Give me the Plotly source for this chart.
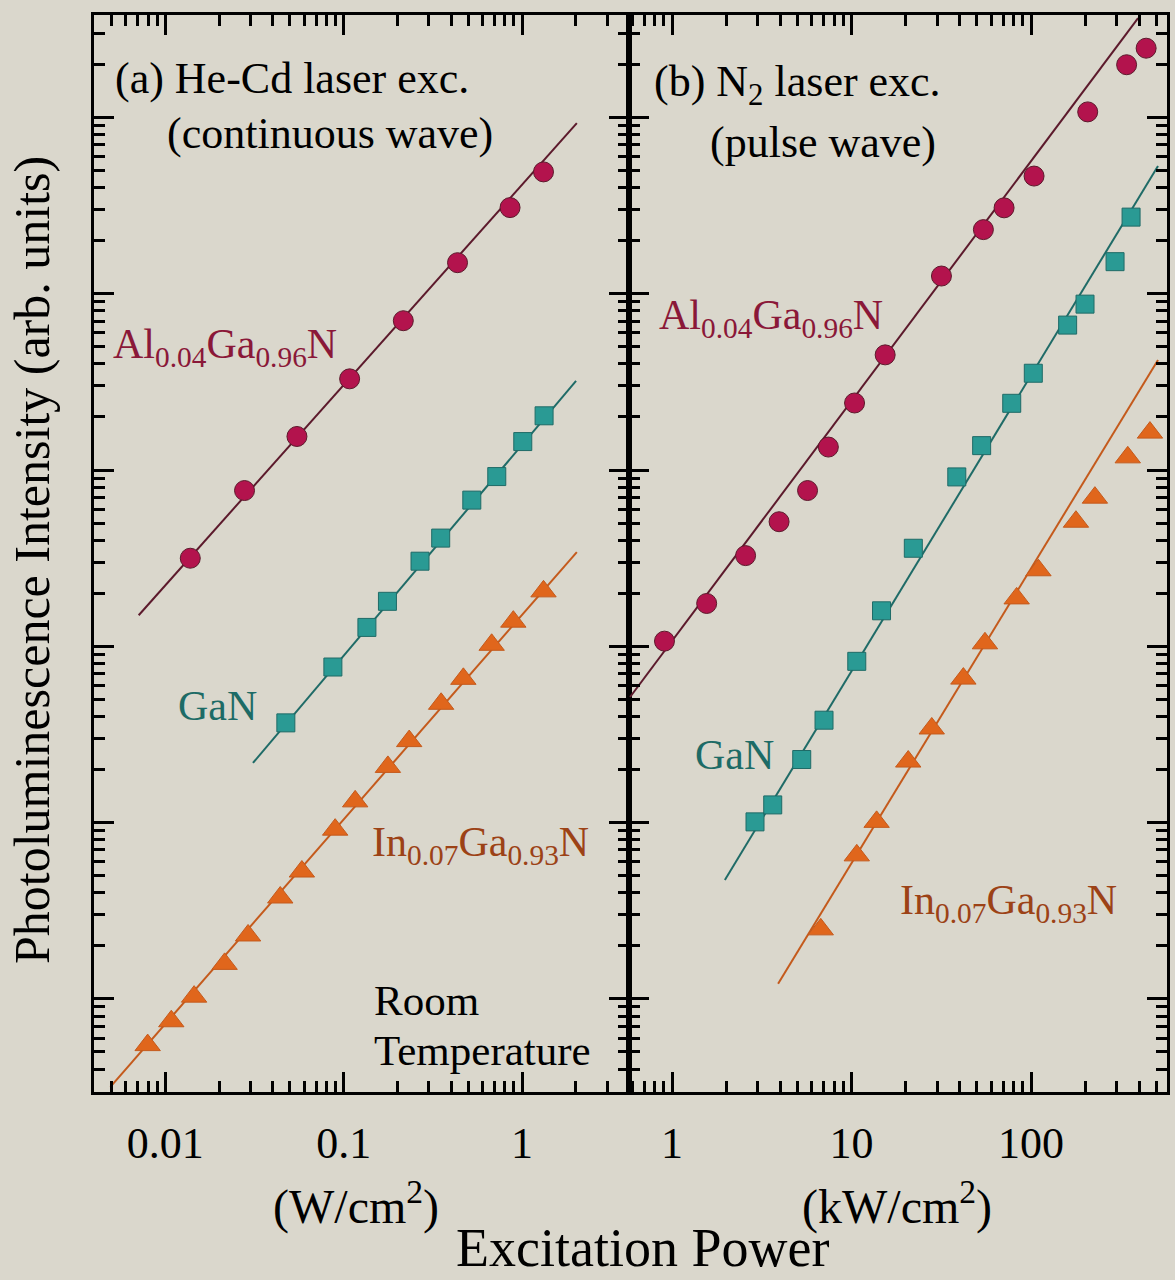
import plotly.graph_objects as go

# ---------------- data ----------------
# Panel (a): He-Cd laser excitation, power in W/cm^2
a_al_x = [0.0138, 0.0278, 0.0547, 0.108, 0.216, 0.435, 0.857, 1.32]
a_al_y = [316, 765, 1550, 3290, 7030, 15000, 30800, 49100]
a_al_fit_x = [0.00709, 2.03]
a_al_fit_y = [150, 92900]

a_gan_x = [0.0474, 0.0870, 0.135, 0.176, 0.268, 0.350, 0.523, 0.722, 1.01, 1.33]
a_gan_y = [36.8, 76.3, 128, 180, 304, 411, 675, 918, 1450, 2030]
a_gan_fit_x = [0.0310, 2.01]
a_gan_fit_y = [21.8, 3200]

a_ingan_x = [0.00796, 0.0108, 0.0145, 0.0215, 0.0291, 0.0441, 0.0583, 0.0896,
             0.116, 0.177, 0.233, 0.352, 0.469, 0.676, 0.894, 1.32]
a_ingan_y = [0.547, 0.747, 1.03, 1.58, 2.29, 3.76, 5.28, 9.12,
             13.2, 20.7, 29.0, 47.2, 65.4, 102, 138, 205]
a_ingan_fit_x = [0.00492, 2.03]
a_ingan_fit_y = [0.317, 342]

# Panel (b): N2 laser excitation, power in kW/cm^2
b_al_x = [0.908, 1.56, 2.57, 3.95, 5.69, 7.43, 10.4, 15.4, 31.7, 54.3, 70.8, 104, 207, 341, 438]
b_al_y = [107, 175, 327, 509, 765, 1350, 2400, 4500, 12600, 23100, 30700, 46500, 107500, 199000, 247000]
b_al_fit_x = [0.584, 395]
b_al_fit_y = [51.6, 366000]

b_gan_x = [2.90, 3.64, 5.28, 7.03, 10.7, 14.7, 22.1, 38.6, 53.1, 78.1, 103, 160, 200, 294, 361]
b_gan_y = [10.1, 12.6, 22.8, 38.1, 82.2, 159, 360, 914, 1375, 2390, 3540, 6640, 8730, 15200, 27200]
b_gan_fit_x = [1.97, 510]
b_gan_fit_y = [4.73, 53000]

b_ingan_x = [6.74, 10.7, 13.8, 20.7, 28.0, 42.0, 55.4, 83.2, 110, 178, 227, 346, 460]
b_ingan_y = [2.48, 6.52, 10.1, 22.2, 34.2, 65.6, 104, 187, 270, 509, 697, 1180, 1630]
b_ingan_fit_x = [3.90, 510]
b_ingan_fit_y = [1.22, 4210]

a_tickvals = [0.01, 0.1, 1]
a_ticktext = ["0.01", "0.1", "1"]
b_tickvals = [1, 10, 100]
b_ticktext = ["1", "10", "100"]

# ---------------- styling ----------------
BG = "#dad7cc"
FONT = "Liberation Serif"
AL_M, AL_L, AL_T = "#b3134d", "#5c1a2c", "#8a1838"
GA_M, GA_L, GA_T = "#2a9a94", "#1f6b67", "#1d6b66"
IN_M, IN_L, IN_T = "#e0661c", "#c45a1c", "#9c4216"

W, H = 1175, 1280
ML, MR, MT, MB = 94, 8, 15, 188
PW, PH = W - ML - MR, H - MT - MB
SPLIT = (629 - ML) / PW


def px(x):
    return (x - ML) / PW


def py(y):
    return (H - MB - y) / PH


fig = go.Figure()


def add_series(x, y, fx, fy, mcol, lcol, symbol, size, xa, ya):
    fig.add_trace(go.Scatter(x=fx, y=fy, mode="lines", line=dict(color=lcol, width=2),
                             xaxis=xa, yaxis=ya, showlegend=False, hoverinfo="skip"))
    fig.add_trace(go.Scatter(x=x, y=y, mode="markers",
                             marker=dict(symbol=symbol, size=size, color=mcol,
                                         line=dict(color=lcol, width=1)),
                             xaxis=xa, yaxis=ya, showlegend=False))


add_series(a_al_x, a_al_y, a_al_fit_x, a_al_fit_y, AL_M, AL_L, "circle", 20, "x", "y")
add_series(a_gan_x, a_gan_y, a_gan_fit_x, a_gan_fit_y, GA_M, GA_L, "square", 18, "x", "y")
add_series(a_ingan_x, a_ingan_y, a_ingan_fit_x, a_ingan_fit_y, IN_M, IN_L, "triangle-up", 22, "x", "y")
add_series(b_al_x, b_al_y, b_al_fit_x, b_al_fit_y, AL_M, AL_L, "circle", 20, "x2", "y2")
add_series(b_gan_x, b_gan_y, b_gan_fit_x, b_gan_fit_y, GA_M, GA_L, "square", 18, "x2", "y2")
add_series(b_ingan_x, b_ingan_y, b_ingan_fit_x, b_ingan_fit_y, IN_M, IN_L, "triangle-up", 22, "x2", "y2")

minor = dict(ticks="inside", ticklen=11, tickwidth=2.5, tickcolor="black", dtick="D1", showgrid=False)
common_x = dict(type="log", showgrid=False, zeroline=False, ticks="inside", ticklen=20, tickwidth=2.5,
                tickcolor="black", showline=True, linewidth=3, linecolor="black", mirror="ticks",
                tickmode="array", tickfont=dict(family=FONT, size=44, color="black"),
                ticklabelstandoff=10, minor=minor, automargin=False)
common_y = dict(type="log", showgrid=False, zeroline=False, ticks="inside", ticklen=20, tickwidth=2.5,
                tickcolor="black", showline=True, linewidth=3, linecolor="black", mirror="ticks",
                dtick=1, showticklabels=False, minor=minor, range=[-0.528, 5.581], automargin=False)

fig.update_layout(
    width=W, height=H,
    margin=dict(l=ML, r=MR, t=MT, b=MB),
    paper_bgcolor=BG, plot_bgcolor=BG,
    font=dict(family=FONT, color="black"),
    xaxis=dict(common_x, domain=[0, SPLIT], range=[-2.4, 0.6], anchor="y",
               tickvals=a_tickvals, ticktext=a_ticktext),
    xaxis2=dict(common_x, domain=[SPLIT, 1], range=[-0.2396, 2.7577], anchor="y2",
                tickvals=b_tickvals, ticktext=b_ticktext),
    yaxis=dict(common_y, domain=[0, 1], anchor="x"),
    yaxis2=dict(common_y, domain=[0, 1], anchor="x2"),
)


def note(text, x, y, size=43, color="black", xanchor="left", angle=0):
    fig.add_annotation(text=text, x=px(x), y=py(y), xref="paper", yref="paper",
                       xanchor=xanchor, yanchor="middle", showarrow=False, textangle=angle,
                       font=dict(family=FONT, size=size, color=color))


note("(a) He-Cd laser exc.", 113, 78, 44)
note("(continuous wave)", 165, 133, 44)
note("(b) N<sub>2</sub> laser exc.", 652, 84, 44)
note("(pulse wave)", 708, 142, 44)

note("Al<sub>0.04</sub>Ga<sub>0.96</sub>N", 111, 347, 42, AL_T)
note("GaN", 176, 706, 42, GA_T)
note("In<sub>0.07</sub>Ga<sub>0.93</sub>N", 370, 845, 42, IN_T)
note("Room", 372, 1000, 43)
note("Temperature", 372, 1050, 43)

note("Al<sub>0.04</sub>Ga<sub>0.96</sub>N", 657, 318, 42, AL_T)
note("GaN", 693, 755, 42, GA_T)
note("In<sub>0.07</sub>Ga<sub>0.93</sub>N", 898, 903, 42, IN_T)

note("(W/cm<sup>2</sup>)", 356, 1203, 48, xanchor="center")
note("(kW/cm<sup>2</sup>)", 897, 1203, 48, xanchor="center")
note("Excitation Power", 642, 1248, 54, xanchor="center")
note("Photoluminescence Intensity (arb. units)", 32, 560, 50, xanchor="center", angle=-90)

fig.write_html("out.html")
